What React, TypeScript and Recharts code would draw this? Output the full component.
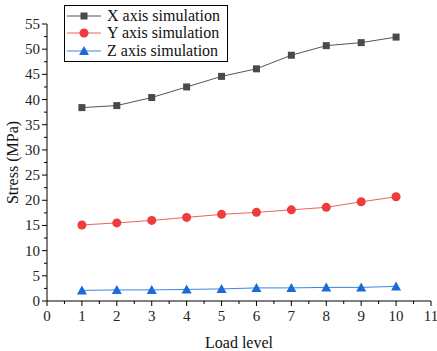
import { LineChart, Line, XAxis, YAxis } from 'recharts';

const loadLevels = [1, 2, 3, 4, 5, 6, 7, 8, 9, 10];
const xSim = [38.4, 38.8, 40.4, 42.5, 44.6, 46.1, 48.8, 50.7, 51.3, 52.4];
const ySim = [15.1, 15.5, 16.0, 16.6, 17.2, 17.6, 18.1, 18.6, 19.7, 20.7];
const zSim = [2.1, 2.2, 2.2, 2.3, 2.4, 2.6, 2.6, 2.7, 2.7, 2.9];

const xTicks = Array.from({ length: 23 }, (_, i) => i * 0.5);
const yTicks = Array.from({ length: 23 }, (_, i) => i * 2.5);

const series = [
  { key: 'x', name: 'X axis simulation', line: '#555555', fill: '#4a4a4a', shape: 'square' },
  { key: 'y', name: 'Y axis simulation', line: '#f06060', fill: '#ee3b3b', shape: 'circle' },
  { key: 'z', name: 'Z axis simulation', line: '#3a86e0', fill: '#1a6ad8', shape: 'triangle' },
];

const rows = loadLevels.map((lv, i) => ({ level: lv, x: xSim[i], y: ySim[i], z: zSim[i] }));

const FONT = 'Liberation Serif';

function Marker({ cx, cy, shape, fill }: any) {
  if (cx == null || cy == null) return null;
  if (shape === 'square') return <rect x={cx - 3.5} y={cy - 3.5} width={7} height={7} fill={fill} />;
  if (shape === 'circle') return <circle cx={cx} cy={cy} r={4.5} fill={fill} />;
  return <polygon points={`${cx},${cy - 5} ${cx - 5},${cy + 4} ${cx + 5},${cy + 4}`} fill={fill} />;
}

function XTick({ x, y, payload }: any) {
  const v = payload.value;
  const major = Number.isInteger(v);
  return (
    <g>
      <line x1={x} y1={y} x2={x} y2={y + (major ? 5 : 3)} stroke="#000" />
      {major && (
        <text x={x} y={y + 20} textAnchor="middle" style={{ fontFamily: FONT, fontSize: 15 }} fill="#222">
          {v}
        </text>
      )}
    </g>
  );
}

function YTick({ x, y, payload }: any) {
  const v = payload.value;
  const major = Number.isInteger(v / 5);
  return (
    <g>
      <line x1={x - (major ? 5 : 3)} y1={y} x2={x} y2={y} stroke="#000" />
      {major && (
        <text x={x - 7} y={y + 5} textAnchor="end" style={{ fontFamily: FONT, fontSize: 15 }} fill="#222">
          {v}
        </text>
      )}
    </g>
  );
}

function LegendBox() {
  return (
    <div
      style={{
        position: 'absolute',
        left: 64,
        top: 5,
        border: '1px solid #000',
        background: '#fff',
        width: 162,
        padding: '1px 0',
        fontFamily: FONT,
        fontSize: 16,
        color: '#111',
        lineHeight: 1,
      }}
    >
      {series.map((s) => (
        <div key={s.key} style={{ display: 'flex', alignItems: 'center', height: 17.5 }}>
          <svg width={42} height={14} style={{ flex: 'none' }}>
            <line x1={2} y1={7} x2={36} y2={7} stroke={s.line} />
            <Marker cx={19} cy={7} shape={s.shape} fill={s.fill} />
          </svg>
          <span style={{ whiteSpace: 'nowrap', fontFamily: FONT }}>{s.name}</span>
        </div>
      ))}
    </div>
  );
}

export default function App() {
  return (
    <div style={{ position: 'absolute', left: 0, top: 0, width: 437, height: 351, background: '#fff', fontFamily: FONT }}>
      <LineChart
        width={437}
        height={351}
        data={rows}
        margin={{ top: 24, right: 6, left: 0, bottom: 0 }}
        style={{ fontFamily: FONT }}
      >
        <XAxis
          dataKey="level"
          type="number"
          domain={[0, 11]}
          ticks={xTicks}
          interval={0}
          height={50}
          tickSize={0}
          tickMargin={0}
          tick={<XTick />}
          axisLine={{ stroke: '#000' }}
          label={{ value: 'Load level', position: 'insideBottom', offset: 3, fill: '#111', style: { fontFamily: FONT, fontSize: 16 } }}
        />
        <YAxis
          type="number"
          domain={[0, 55]}
          ticks={yTicks}
          interval={0}
          width={47}
          tickSize={0}
          tickMargin={0}
          tick={<YTick />}
          axisLine={{ stroke: '#000' }}
          label={{ value: 'Stress (MPa)', angle: -90, position: 'insideLeft', offset: 12, fill: '#111', style: { textAnchor: 'middle', fontFamily: FONT, fontSize: 16 } }}
        />
        {series.map((s) => (
          <Line
            key={s.key}
            dataKey={s.key}
            name={s.name}
            stroke={s.line}
            strokeWidth={1}
            isAnimationActive={false}
            dot={(p: any) => <Marker key={`${s.key}-${p.index}`} cx={p.cx} cy={p.cy} shape={s.shape} fill={s.fill} />}
            activeDot={false}
          />
        ))}
      </LineChart>
      <LegendBox />
    </div>
  );
}
